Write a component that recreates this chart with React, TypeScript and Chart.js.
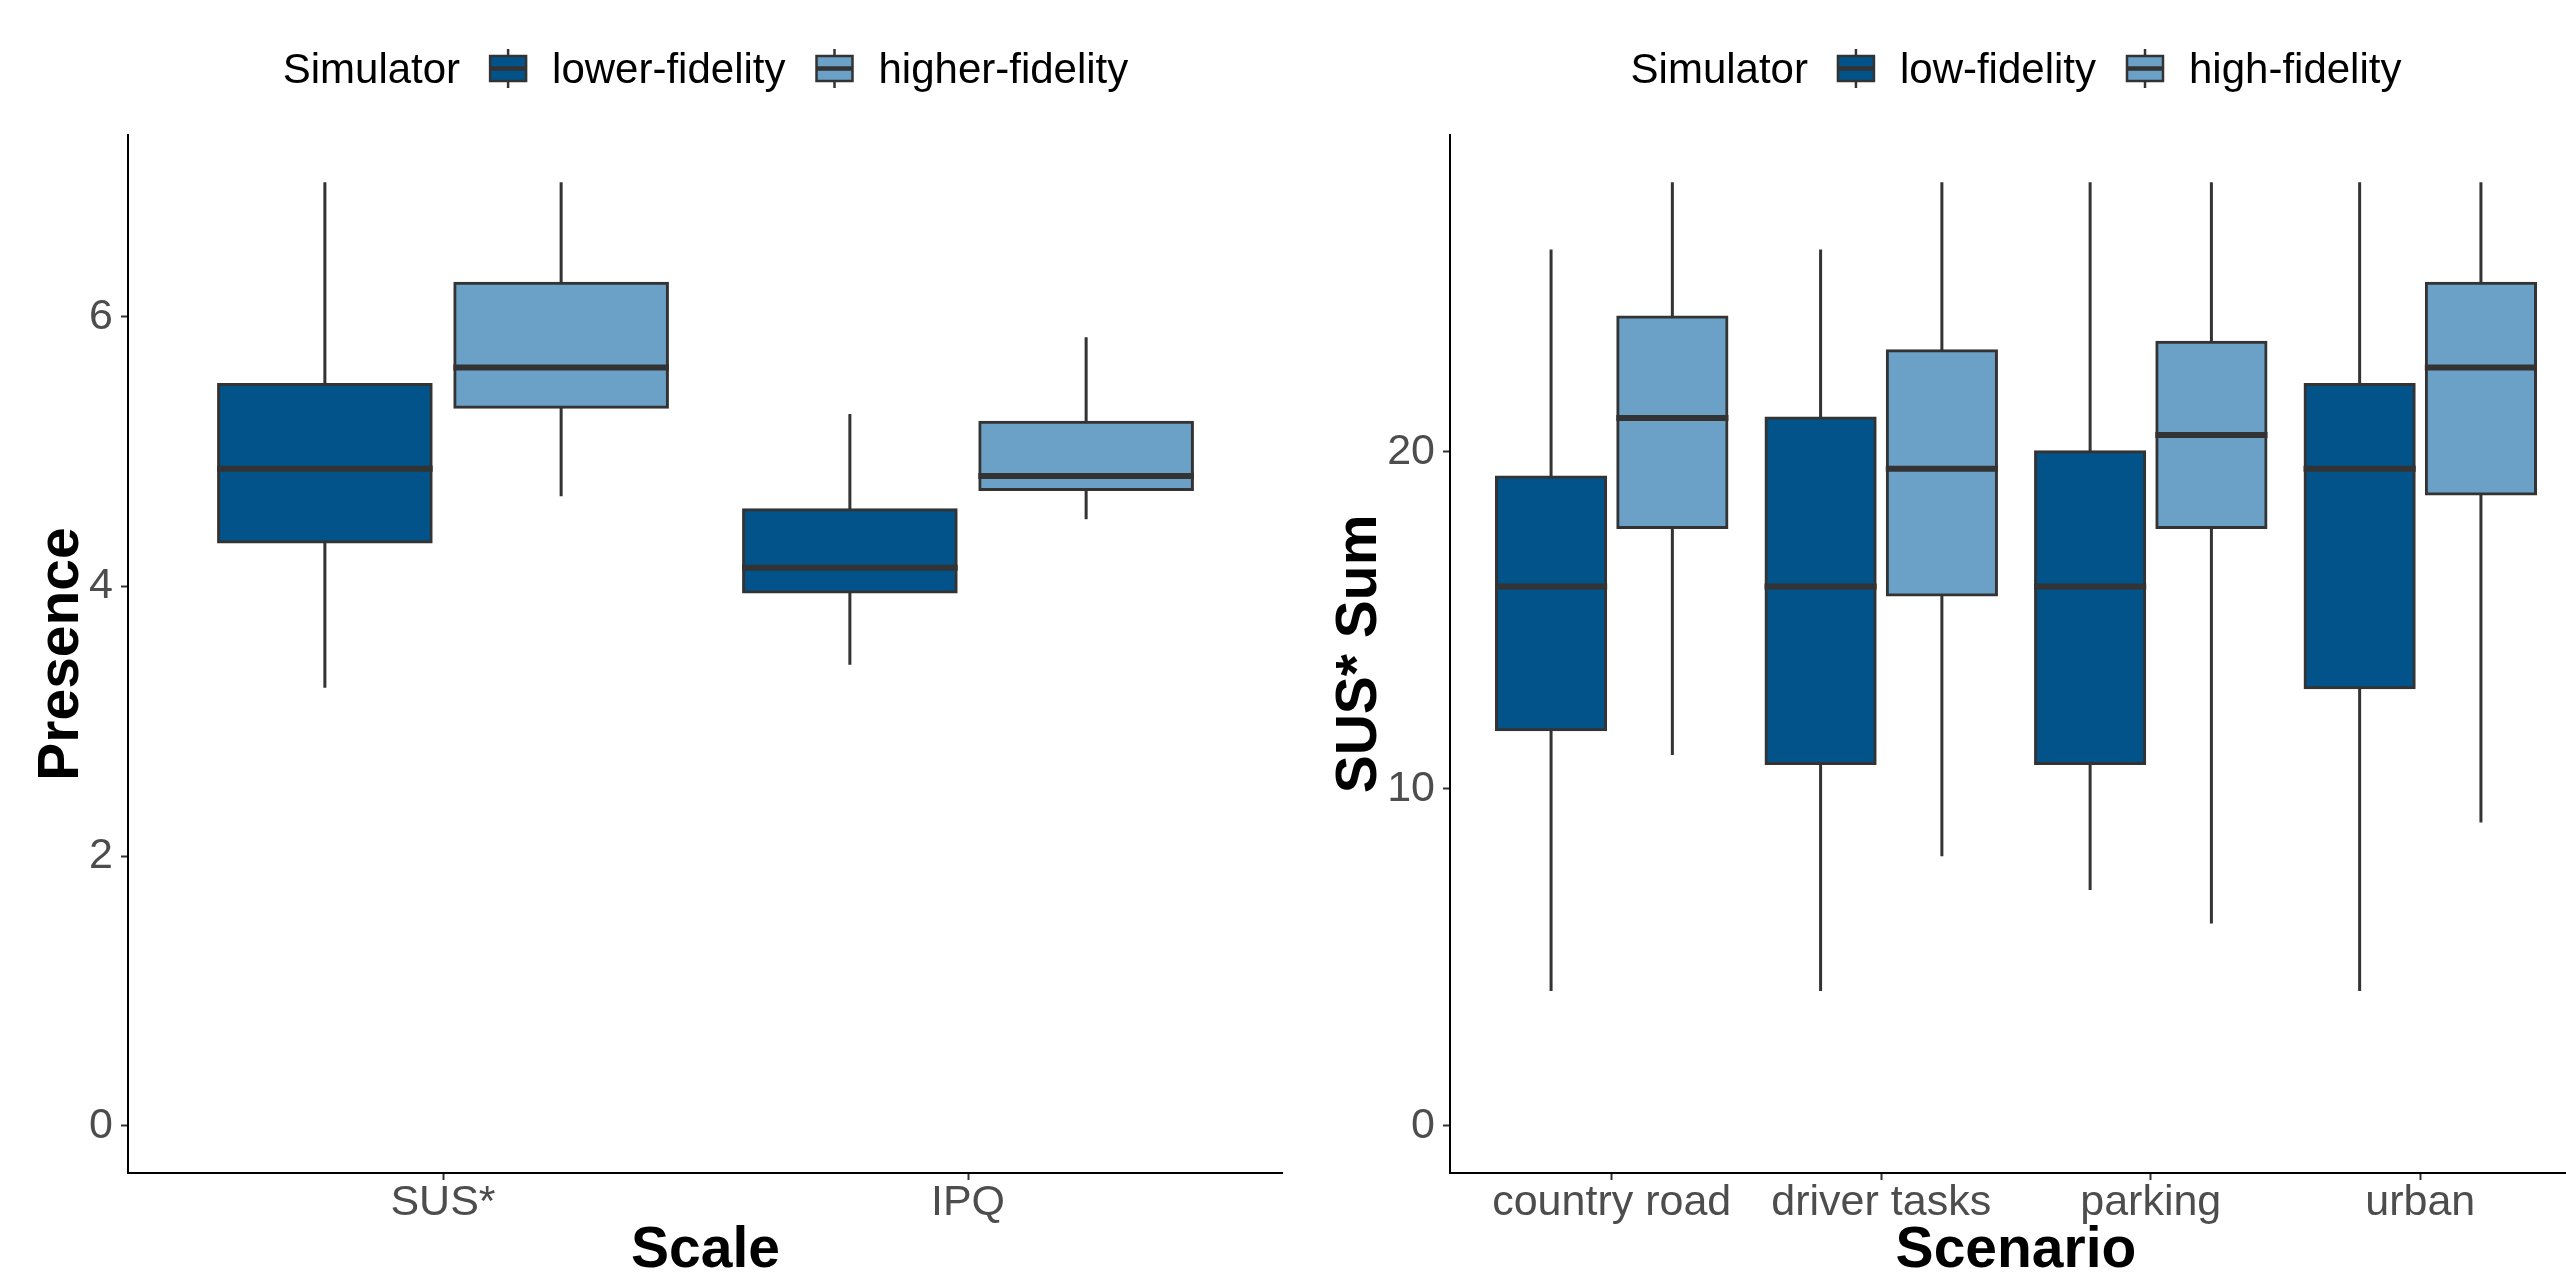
import React, { useEffect, useRef } from "react";
import { Chart, registerables } from "chart.js";

Chart.register(...registerables);

const FONT = "'Liberation Sans', Arial, Helvetica, sans-serif";
const DARK = "#02538A";
const LIGHT = "#6BA1C7";
const EDGE = "#333333";
const TICK_TEXT = "#4D4D4D";

// ---------- Left panel: Presence by Scale ----------
const scaleCategories = ["SUS*", "IPQ"];
const presenceTicks = [0, 2, 4, 6];
const lowerFidMin = [3.25, 3.42];
const lowerFidQ1 = [4.33, 3.96];
const lowerFidMedian = [4.875, 4.14];
const lowerFidQ3 = [5.5, 4.57];
const lowerFidMax = [7, 5.28];
const higherFidMin = [4.67, 4.5];
const higherFidQ1 = [5.33, 4.72];
const higherFidMedian = [5.625, 4.82];
const higherFidQ3 = [6.25, 5.22];
const higherFidMax = [7, 5.85];

// ---------- Right panel: SUS* Sum by Scenario ----------
const scenarioCategories = ["country road", "driver tasks", "parking", "urban"];
const susTicks = [0, 10, 20];
const lowFidMin = [4, 4, 7, 4];
const lowFidQ1 = [11.75, 10.75, 10.75, 13];
const lowFidMedian = [16, 16, 16, 19.5];
const lowFidQ3 = [19.25, 21, 20, 22];
const lowFidMax = [26, 26, 28, 28];
const highFidMin = [11, 8, 6, 9];
const highFidQ1 = [17.75, 15.75, 17.75, 18.75];
const highFidMedian = [21, 19.5, 20.5, 22.5];
const highFidQ3 = [24, 23, 23.25, 25];
const highFidMax = [28, 28, 28, 28];

type Series = {
  label: string;
  color: string;
  min: number[];
  q1: number[];
  median: number[];
  q3: number[];
  max: number[];
};

const boxPlugin = {
  id: "boxWhiskers",
  beforeDatasetsDraw(chart: any) {
    const { ctx } = chart;
    const y = chart.scales.y;
    ctx.save();
    ctx.strokeStyle = EDGE;
    ctx.lineWidth = 3;
    ctx.lineCap = "butt";
    chart.data.datasets.forEach((ds: any, di: number) => {
      const meta = chart.getDatasetMeta(di);
      meta.data.forEach((bar: any, i: number) => {
        const { x } = bar.getProps(["x"], true);
        ctx.beginPath();
        ctx.moveTo(x, y.getPixelForValue(ds.whiskerMax[i]));
        ctx.lineTo(x, y.getPixelForValue(ds.whiskerMin[i]));
        ctx.stroke();
      });
    });
    ctx.restore();
  },
  afterDatasetsDraw(chart: any) {
    const { ctx } = chart;
    const y = chart.scales.y;
    ctx.save();
    ctx.strokeStyle = EDGE;
    ctx.lineWidth = 6;
    ctx.lineCap = "butt";
    chart.data.datasets.forEach((ds: any, di: number) => {
      const meta = chart.getDatasetMeta(di);
      meta.data.forEach((bar: any, i: number) => {
        const { x, width } = bar.getProps(["x", "width"], true);
        const py = y.getPixelForValue(ds.medians[i]);
        ctx.beginPath();
        ctx.moveTo(x - width / 2 - 1.5, py);
        ctx.lineTo(x + width / 2 + 1.5, py);
        ctx.stroke();
      });
    });
    ctx.restore();
  },
};

const legendPlugin = {
  id: "boxLegend",
  afterDraw(chart: any, _args: any, opts: any) {
    const { ctx } = chart;
    const xs = chart.scales.x;
    const n = opts.count as number;
    const cx = xs.getPixelForValue((n + 1) / 2);
    const title: string = opts.title;
    const items = chart.data.datasets as any[];
    ctx.save();
    ctx.font = `42px ${FONT}`;
    const KEY = 36;
    const G1 = 30;
    const G2 = 26;
    const G3 = 31;
    const titleW = ctx.measureText(title).width;
    const widths = items.map((d) => ctx.measureText(d.label).width);
    let total = titleW;
    widths.forEach((w, i) => {
      total += (i === 0 ? G1 : G3) + KEY + G2 + w;
    });
    let x = cx - total / 2;
    const baseline = 83;
    ctx.fillStyle = "#000000";
    ctx.textBaseline = "alphabetic";
    ctx.textAlign = "left";
    ctx.fillText(title, x, baseline);
    x += titleW;
    items.forEach((d, i) => {
      x += i === 0 ? G1 : G3;
      const mid = x + KEY / 2;
      ctx.strokeStyle = EDGE;
      ctx.lineWidth = 2.5;
      ctx.beginPath();
      ctx.moveTo(mid, 49);
      ctx.lineTo(mid, 88);
      ctx.stroke();
      ctx.fillStyle = d.backgroundColor;
      ctx.fillRect(x, 56, KEY, 25);
      ctx.strokeRect(x, 56, KEY, 25);
      ctx.lineWidth = 4.5;
      ctx.beginPath();
      ctx.moveTo(x, 68.5);
      ctx.lineTo(x + KEY, 68.5);
      ctx.stroke();
      x += KEY + G2;
      ctx.fillStyle = "#000000";
      ctx.fillText(d.label, x, baseline);
      x += widths[i];
    });
    ctx.restore();
  },
};

type PanelProps = {
  left: number;
  width: number;
  categories: string[];
  series: Series[];
  yMin: number;
  yMax: number;
  yTicks: number[];
  xMax: number;
  yAxisWidth: number;
  xTitle: string;
  yTitle: string;
  yTitlePad: number;
};

function BoxPanel(props: PanelProps) {
  const ref = useRef<HTMLCanvasElement>(null);
  useEffect(() => {
    const { categories, series } = props;
    const chart = new Chart(ref.current as HTMLCanvasElement, {
      type: "bar",
      data: {
        datasets: series.map((s) => ({
          label: s.label,
          data: categories.map((_, i) => ({ x: i + 1, y: [s.q1[i], s.q3[i]] })),
          backgroundColor: s.color,
          borderColor: EDGE,
          borderWidth: 3,
          borderSkipped: false,
          inflateAmount: 1.5,
          categoryPercentage: 0.9,
          barPercentage: 0.9,
          whiskerMin: s.min,
          whiskerMax: s.max,
          medians: s.median,
        })) as any,
      },
      options: {
        responsive: false,
        animation: false,
        layout: { padding: { top: 135, left: 0, right: 0, bottom: 0 } },
        plugins: {
          legend: { display: false },
          tooltip: { enabled: false },
          boxLegend: { title: "Simulator", count: categories.length },
        } as any,
        scales: {
          x: {
            type: "linear",
            min: 0.4,
            max: props.xMax,
            offset: false,
            bounds: "data",
            afterBuildTicks: (s: any) => {
              s.ticks = categories.map((_, i) => ({ value: i + 1 }));
            },
            afterFit: (s: any) => {
              s.height = 107;
            },
            ticks: {
              autoSkip: false,
              maxRotation: 0,
              padding: 2,
              color: TICK_TEXT,
              font: { family: FONT, size: 43, lineHeight: 1 },
              callback: (v: any) => categories[Math.round(Number(v)) - 1] ?? "",
            },
            grid: {
              display: true,
              drawOnChartArea: false,
              drawTicks: true,
              offset: false,
              tickLength: 7,
              tickWidth: 2,
              tickColor: EDGE,
              color: "rgba(0,0,0,0)",
            },
            border: { display: true, color: "#000000", width: 2 },
            title: {
              display: true,
              text: props.xTitle,
              color: "#000000",
              font: { family: FONT, size: 57, weight: "bold", lineHeight: 1 },
              padding: { top: 0, bottom: 0 },
            },
          } as any,
          y: {
            type: "linear",
            min: props.yMin,
            max: props.yMax,
            bounds: "data",
            afterBuildTicks: (s: any) => {
              s.ticks = props.yTicks.map((v) => ({ value: v }));
            },
            afterFit: (s: any) => {
              s.width = props.yAxisWidth;
            },
            ticks: {
              padding: 8,
              color: TICK_TEXT,
              font: { family: FONT, size: 43, lineHeight: 1 },
              callback: (v: any) => String(v),
            },
            grid: {
              display: true,
              drawOnChartArea: false,
              drawTicks: true,
              tickLength: 7,
              tickWidth: 2,
              tickColor: EDGE,
              color: "rgba(0,0,0,0)",
            },
            border: { display: true, color: "#000000", width: 2 },
            title: {
              display: true,
              text: props.yTitle,
              color: "#000000",
              font: { family: FONT, size: 57, weight: "bold", lineHeight: 1 },
              padding: { top: props.yTitlePad, bottom: 0 },
            },
          } as any,
        },
      },
      plugins: [boxPlugin, legendPlugin] as any,
    });
    return () => chart.destroy();
  }, []);
  return (
    <canvas
      ref={ref}
      width={props.width}
      height={1280}
      style={{ position: "absolute", left: props.left, top: 0, width: props.width, height: 1280 }}
    />
  );
}

export default function App() {
  useEffect(() => {
    document.body.style.margin = "0";
    document.body.style.overflow = "hidden";
  }, []);
  const leftSeries: Series[] = [
    { label: "lower-fidelity", color: DARK, min: lowerFidMin, q1: lowerFidQ1, median: lowerFidMedian, q3: lowerFidQ3, max: lowerFidMax },
    { label: "higher-fidelity", color: LIGHT, min: higherFidMin, q1: higherFidQ1, median: higherFidMedian, q3: higherFidQ3, max: higherFidMax },
  ];
  const rightSeries: Series[] = [
    { label: "low-fidelity", color: DARK, min: lowFidMin, q1: lowFidQ1, median: lowFidMedian, q3: lowFidQ3, max: lowFidMax },
    { label: "high-fidelity", color: LIGHT, min: highFidMin, q1: highFidQ1, median: highFidMedian, q3: highFidQ3, max: highFidMax },
  ];
  return (
    <div
      style={{
        position: "absolute",
        left: 0,
        top: 0,
        width: 2566,
        height: 1280,
        overflow: "hidden",
        background: "#ffffff",
      }}
    >
      <BoxPanel
        left={0}
        width={1283}
        categories={scaleCategories}
        series={leftSeries}
        yMin={-0.35}
        yMax={7.35}
        yTicks={presenceTicks}
        xMax={2.6}
        yAxisWidth={128}
        xTitle="Scale"
        yTitle="Presence"
        yTitlePad={34}
      />
      <BoxPanel
        left={1283}
        width={1299}
        categories={scenarioCategories}
        series={rightSeries}
        yMin={-1.4}
        yMax={29.4}
        yTicks={susTicks}
        xMax={4.6}
        yAxisWidth={167}
        xTitle="Scenario"
        yTitle="SUS* Sum"
        yTitlePad={49}
      />
    </div>
  );
}
